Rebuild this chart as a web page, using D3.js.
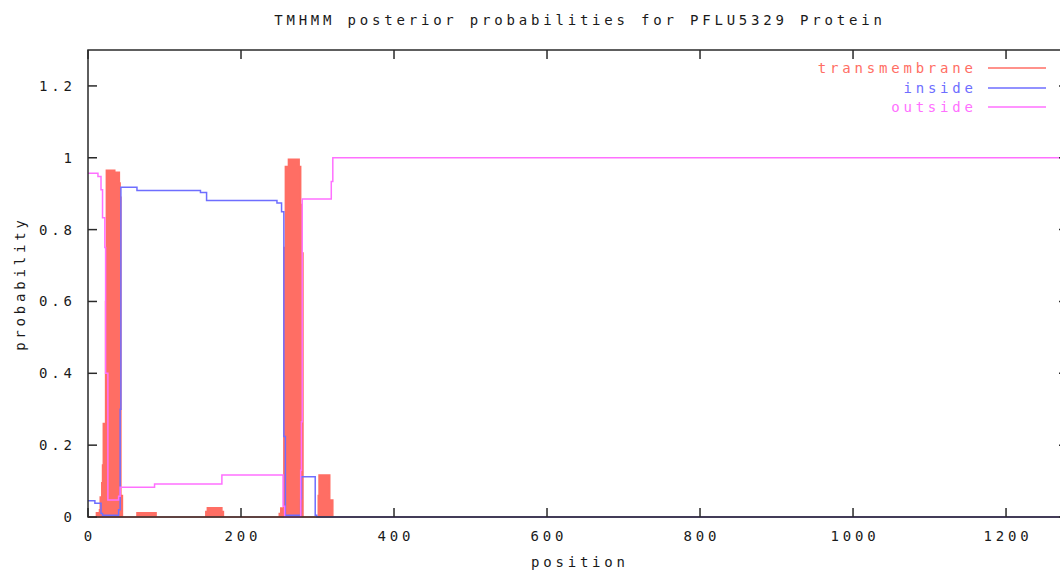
<!DOCTYPE html>
<html>
<head>
<meta charset="utf-8">
<script src="https://cdn.jsdelivr.net/npm/d3@7"></script>
<style>
  html, body { margin: 0; padding: 0; background: #fff; }
  svg text { font-family: "DejaVu Sans Mono", "Liberation Mono", monospace; font-size: 14px; fill: #1a1a1a; letter-spacing: 3.8px; }
</style>
</head>
<body>
<svg id="chart" width="1060" height="572"></svg>
<script>
// Sequence length of the protein (residues)
const seqLength = 1281;

// Posterior probabilities, as step changes: value holds from position until the next position
const tmPos  = [0, 11, 15, 16, 18, 19, 20, 23, 24, 35, 41, 42, 43, 45, 64, 89, 154, 156, 175, 177, 250, 252, 256, 258, 262, 276, 278, 279, 281, 301, 302, 316, 320, 1281];
const tmVal  = [0, 0.012, 0.02, 0.056, 0.095, 0.145, 0.26, 0.6, 0.965, 0.96, 0.93, 0.89, 0.06, 0, 0.012, 0, 0.015, 0.026, 0.015, 0, 0.01, 0.025, 0.75, 0.976, 0.996, 0.976, 0.87, 0.735, 0, 0.06, 0.117, 0.047, 0, 0];

const inPos  = [0, 9, 17, 19, 40, 42, 43, 64, 147, 155, 247, 253, 256, 258, 278, 279, 297, 299, 1281];
const inVal  = [0.045, 0.038, 0.01, 0.005, 0.02, 0.3, 0.918, 0.909, 0.903, 0.881, 0.874, 0.85, 0.224, 0.005, 0.05, 0.112, 0.005, 0, 0];

const outPos = [0, 13, 17, 19, 22, 23, 26, 40, 42, 87, 175, 255, 257, 278, 279, 280, 318, 320, 1281];
const outVal = [0.957, 0.948, 0.911, 0.833, 0.75, 0.40, 0.047, 0.058, 0.083, 0.092, 0.117, 0.03, 0, 0.13, 0.265, 0.885, 0.934, 1.0, 1.0];

const xTicks = [0, 200, 400, 600, 800, 1000, 1200];
const yTicks = [0, 0.2, 0.4, 0.6, 0.8, 1.0, 1.2];

const seriesNames = ["transmembrane", "inside", "outside"];
const seriesColors = ["#ff6e64", "#6e6eff", "#ff70ff"];

const titleText = "TMHMM posterior probabilities for PFLU5329 Protein";
const xLabel = "position";
const yLabel = "probability";

// Plot frame in pixels
const plotLeft = 88, plotRight = 1068, plotTop = 50, plotBottom = 517;
const ls = 3.8; // letter spacing, trailing gap compensation

const svg = d3.select("#chart");
const x = d3.scaleLinear().domain([0, seqLength]).range([plotLeft, plotRight]);
const y = d3.scaleLinear().domain([0, 1.3]).range([plotBottom, plotTop]);

const zip = (p, v) => p.map((d, i) => ({ pos: d, val: v[i] }));
const tm = zip(tmPos, tmVal), inside = zip(inPos, inVal), outside = zip(outPos, outVal);

svg.append("clipPath").attr("id", "plotclip")
  .append("rect").attr("x", plotLeft).attr("y", plotTop)
  .attr("width", plotRight - plotLeft).attr("height", plotBottom - plotTop + 1);

const plot = svg.append("g").attr("clip-path", "url(#plotclip)");

// Transmembrane: filled area
plot.append("path").datum(tm)
  .attr("fill", seriesColors[0])
  .attr("stroke", seriesColors[0])
  .attr("stroke-width", 1.5)
  .attr("d", d3.area().curve(d3.curveStepAfter).x(d => x(d.pos)).y0(y(0)).y1(d => y(d.val)));

const line = d3.line().curve(d3.curveStepAfter).x(d => x(d.pos)).y(d => y(d.val));
plot.append("path").datum(inside)
  .attr("fill", "none").attr("stroke", seriesColors[1]).attr("stroke-width", 1.5).attr("d", line);
plot.append("path").datum(outside)
  .attr("fill", "none").attr("stroke", seriesColors[2]).attr("stroke-width", 1.5).attr("d", line);

// Frame
const frame = svg.append("g").attr("stroke", "#2a2a2a").attr("stroke-width", 1.5).attr("fill", "none");
frame.append("rect").attr("x", plotLeft).attr("y", plotTop)
  .attr("width", plotRight - plotLeft).attr("height", plotBottom - plotTop);

// Ticks (inward, mirrored on opposite sides)
const tickLen = 9;
xTicks.forEach(t => {
  frame.append("line").attr("x1", x(t)).attr("x2", x(t)).attr("y1", plotBottom).attr("y2", plotBottom - tickLen);
  frame.append("line").attr("x1", x(t)).attr("x2", x(t)).attr("y1", plotTop).attr("y2", plotTop + tickLen);
});
yTicks.forEach(t => {
  frame.append("line").attr("x1", plotLeft).attr("x2", plotLeft + tickLen).attr("y1", y(t)).attr("y2", y(t));
  frame.append("line").attr("x1", plotRight).attr("x2", plotRight - tickLen).attr("y1", y(t)).attr("y2", y(t));
});

// Tick labels
const fmtY = d3.format("~g");
svg.append("g").selectAll("text").data(yTicks).join("text")
  .attr("x", 72 + ls).attr("y", d => y(d)).attr("dy", "0.35em")
  .attr("text-anchor", "end").text(d => fmtY(d));
svg.append("g").selectAll("text").data(xTicks).join("text")
  .attr("x", d => x(d) + ls / 2).attr("y", 541)
  .attr("text-anchor", "middle").text(d => d);

// Titles
svg.append("text").attr("x", (plotLeft + plotRight) / 2 + ls / 2).attr("y", 25)
  .attr("text-anchor", "middle").text(titleText);
svg.append("text").attr("x", (plotLeft + plotRight) / 2 + ls / 2).attr("y", 567)
  .attr("text-anchor", "middle").text(xLabel);
svg.append("text").attr("transform", `translate(25, ${(plotTop + plotBottom) / 2 + 2}) rotate(-90)`)
  .attr("text-anchor", "middle").attr("x", ls / 2).text(yLabel);

// Legend
const legendY = [68, 88, 107];
seriesNames.forEach((name, i) => {
  svg.append("text").attr("x", 973 + ls).attr("y", legendY[i]).attr("dy", "0.35em")
    .attr("text-anchor", "end").style("fill", seriesColors[i]).text(name);
  svg.append("line").attr("x1", 988).attr("x2", 1046).attr("y1", legendY[i]).attr("y2", legendY[i])
    .attr("stroke", seriesColors[i]).attr("stroke-width", 1.5);
});
</script>
</body>
</html>
